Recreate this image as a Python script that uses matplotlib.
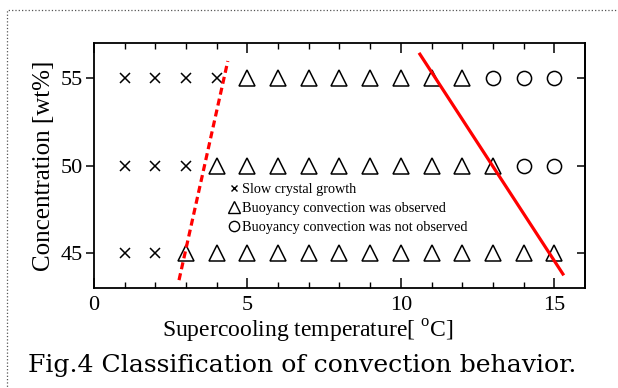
import matplotlib
matplotlib.use("Agg")
import matplotlib.pyplot as plt
from matplotlib.lines import Line2D
from matplotlib.patches import Rectangle

plt.rcParams['font.family'] = ['Liberation Serif', 'DejaVu Serif']
plt.rcParams['mathtext.fontset'] = 'custom'
plt.rcParams['mathtext.rm'] = 'Liberation Serif'

# supercooling [degC] for each class, per concentration row
slow_x = [1, 2, 3, 4, 1, 2, 3, 1, 2]
slow_y = [55, 55, 55, 55, 50, 50, 50, 45, 45]

obs_x = [5, 6, 7, 8, 9, 10, 11, 12,
         4, 5, 6, 7, 8, 9, 10, 11, 12, 13,
         3, 4, 5, 6, 7, 8, 9, 10, 11, 12, 13, 14, 15]
obs_y = [55] * 8 + [50] * 10 + [45] * 13

notobs_x = [13, 14, 15, 14, 15]
notobs_y = [55, 55, 55, 50, 50]

# boundary lines
left_bx = [2.77, 4.36]
left_by = [43.45, 55.97]
right_bx = [10.62, 15.28]
right_by = [56.36, 43.8]

labels = ["Slow crystal growth",
          "Buoyancy convection was observed",
          "Buoyancy convection was not observed"]

fig = plt.figure(figsize=(6.18, 3.88), dpi=100)
ax = fig.add_axes([0.1521, 0.2577, 0.7945, 0.6315])

mk = dict(linestyle='none', markerfacecolor='none', markeredgecolor='black', markeredgewidth=1.1)
ax.plot(slow_x, slow_y, marker='x', markersize=6.8, **mk)
ax.plot(obs_x, obs_y, marker='^', markersize=11.5, **mk)
ax.plot(notobs_x, notobs_y, marker='o', markersize=10.2, **mk)

ax.plot(left_bx, left_by, color='red', lw=2.3, dashes=(2.2, 1.3))
ax.plot(right_bx, right_by, color='red', lw=2.3)

ax.set_xlim(0, 16)
ax.set_ylim(43, 57)
ax.set_xticks([0, 5, 10, 15])
ax.set_xticks(range(0, 16), minor=True)
ax.set_yticks([45, 50, 55])
ax.tick_params(axis='x', which='both', direction='in', top=True, labelsize=16, pad=6)
ax.tick_params(axis='x', which='major', length=7, width=1.1)
ax.tick_params(axis='x', which='minor', length=4, width=1.0)
ax.tick_params(axis='y', direction='out', length=6, width=1.1, labelsize=16, pad=2)
for s in ax.spines.values():
    s.set_linewidth(1.3)

# right side ticks point inwards
ry = ax.secondary_yaxis('right')
ry.set_yticks([45, 50, 55])
ry.tick_params(direction='in', length=6, width=1.1, labelright=False)
ry.spines['right'].set_linewidth(1.3)

ax.set_ylabel("Concentration [wt%]", fontsize=18, labelpad=4)
ax.set_xlabel(r"Supercooling temperature[ $^{\rm o}$C]", fontsize=17, labelpad=2, x=0.436)

leg_mk = dict(mk, markeredgewidth=1.0)
handles = [Line2D([], [], marker='x', markersize=4.5, **leg_mk),
           Line2D([], [], marker='^', markersize=8.6, **leg_mk),
           Line2D([], [], marker='o', markersize=7.4, **leg_mk)]
ax.legend(handles, labels, loc='upper left', bbox_to_anchor=(0.276, 0.43),
          frameon=False, fontsize=10.3, handlelength=0.6,
          handletextpad=0.25, labelspacing=0.44, borderpad=0, borderaxespad=0)

fig.text(0.045, 0.041, "Fig.4 Classification of convection behavior.",
         fontsize=18.1, family='DejaVu Serif', ha='left', va='baseline')

fig.patches.append(Rectangle((7 / 618, -0.05), 1.1, 0.05 + (388 - 10) / 388,
                             transform=fig.transFigure, fill=False,
                             linestyle=':', linewidth=0.9, edgecolor='#555555'))

fig.savefig("out.png", dpi=100)
